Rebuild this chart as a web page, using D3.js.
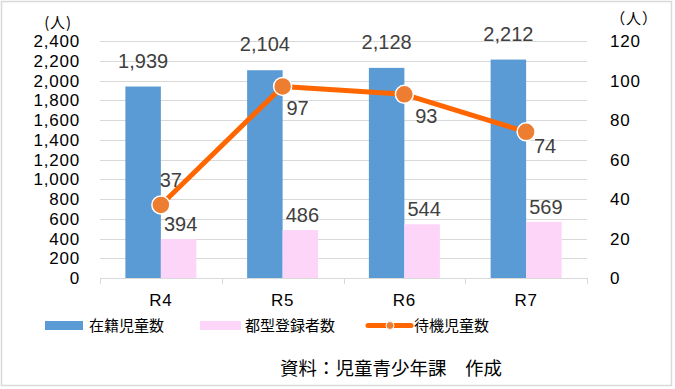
<!DOCTYPE html>
<meta charset="utf-8">
<style>
body { margin: 0; background: #fff; }
svg { display: block; font-family: "Noto Sans CJK JP", "Noto Sans", sans-serif; }
.grid line { stroke: #d9d9d9; stroke-width: 1; shape-rendering: crispEdges; }
.num { font-family: "Liberation Sans", Arial, sans-serif; }
.axis-text { fill: #000; font-size: 17px; letter-spacing: 0.8px; }
.val { fill: #404040; font-size: 20px; }
.legend text { fill: #000; font-size: 15px; }
</style>
<body>
<svg class="js-chart"></svg>
<script src="https://cdn.jsdelivr.net/npm/d3@7"></script>
<script>
"use strict";

var categories = ["R4", "R5", "R6", "R7"];
var enrolled = [1939, 2104, 2128, 2212];      // 在籍児童数
var registered = [394, 486, 544, 569];        // 都型登録者数
var waiting = [37, 97, 93, 74];               // 待機児童数
var leftTicks = [0, 200, 400, 600, 800, 1000, 1200, 1400, 1600, 1800, 2000, 2200, 2400];
var rightTicks = [0, 20, 40, 60, 80, 100, 120];
var legendNames = ["在籍児童数", "都型登録者数", "待機児童数"];

// label offsets for the line values (dx, dy from the marker)
var waitLabelOffset = [[10, -18], [15, 29], [22, 29], [19, 21]];

var W = 675, H = 389;
var plot = { left: 100, right: 587, top: 41, bottom: 278 };

var svg = d3.select(".js-chart").attr("width", W).attr("height", H);

svg.append("rect")
    .attr("x", 1.5).attr("y", 1.5)
    .attr("width", W - 5).attr("height", H - 5)
    .attr("fill", "#fff").attr("stroke", "#d9d9d9").attr("stroke-width", 1.5);

var x = d3.scaleBand().domain(categories).range([plot.left, plot.right]);
var xs = d3.scaleBand().domain(["a", "b"]).range([0, x.bandwidth()]).paddingOuter(0.715);
var yL = d3.scaleLinear().domain([0, 2400]).range([plot.bottom, plot.top]);
var yR = d3.scaleLinear().domain([0, 120]).range([plot.bottom, plot.top]);

// gridlines
svg.append("g").attr("class", "grid")
    .selectAll("line").data(leftTicks.slice(1)).join("line")
    .attr("x1", plot.left).attr("x2", plot.right)
    .attr("y1", d => Math.round(yL(d)) + 0.5).attr("y2", d => Math.round(yL(d)) + 0.5);

// x axis line and ticks
var xa = svg.append("g").attr("class", "grid");
xa.append("line")
    .attr("x1", plot.left).attr("x2", plot.right)
    .attr("y1", plot.bottom + 0.5).attr("y2", plot.bottom + 0.5);
xa.selectAll(".tk").data(categories.concat([null])).join("line")
    .attr("class", "tk")
    .attr("x1", (d, i) => Math.round(plot.left + i * x.step()) + 0.5)
    .attr("x2", (d, i) => Math.round(plot.left + i * x.step()) + 0.5)
    .attr("y1", plot.bottom).attr("y2", plot.bottom + 6);

// left axis labels
svg.append("g").selectAll("text").data(leftTicks).join("text")
    .attr("class", "axis-text num")
    .attr("x", 80).attr("y", d => yL(d))
    .attr("dy", "0.36em").attr("text-anchor", "end")
    .text(d => d3.format(",")(d));
svg.append("text").attr("class", "axis-text")
    .attr("x", 58).attr("y", 28).attr("text-anchor", "middle")
    .style("font-size", "15px")
    .text("(人)");

// right axis labels
svg.append("g").selectAll("text").data(rightTicks).join("text")
    .attr("class", "axis-text num")
    .attr("x", 610).attr("y", d => yR(d))
    .attr("dy", "0.36em")
    .text(d => d);
svg.append("text").attr("class", "axis-text")
    .attr("x", 634).attr("y", 24).attr("text-anchor", "middle")
    .style("font-size", "15px")
    .text("（人）");

// x labels
svg.append("g").selectAll("text").data(categories).join("text")
    .attr("class", "axis-text num")
    .attr("x", d => x(d) + x.bandwidth() / 2).attr("y", 306)
    .attr("text-anchor", "middle")
    .text(d => d);

// bars
svg.append("g").selectAll("rect").data(enrolled).join("rect")
    .attr("x", (d, i) => x(categories[i]) + xs("a"))
    .attr("width", xs.bandwidth())
    .attr("y", d => yL(d)).attr("height", d => yL(0) - yL(d))
    .attr("fill", "#5b9bd5");
svg.append("g").selectAll("rect").data(registered).join("rect")
    .attr("x", (d, i) => x(categories[i]) + xs("b"))
    .attr("width", xs.bandwidth())
    .attr("y", d => yL(d)).attr("height", d => yL(0) - yL(d))
    .attr("fill", "#fdd5f8");

// bar labels
svg.append("g").selectAll("text").data(enrolled).join("text")
    .attr("class", "val num")
    .attr("x", (d, i) => x(categories[i]) + xs("a") + xs.bandwidth() / 2)
    .attr("y", d => yL(d) - 19)
    .attr("text-anchor", "middle")
    .text(d => d3.format(",")(d));
svg.append("g").selectAll("text").data(registered).join("text")
    .attr("class", "val num")
    .attr("x", (d, i) => x(categories[i]) + xs("b") + xs.bandwidth() / 2 + 2)
    .attr("y", d => yL(d) - 8)
    .attr("text-anchor", "middle")
    .text(d => d3.format(",")(d));

// waiting line
var cx = (d, i) => x(categories[i]) + x.bandwidth() / 2;
var line = d3.line().x(cx).y(d => yR(d));
svg.append("path").datum(waiting)
    .attr("d", line)
    .attr("fill", "none").attr("stroke", "#ff6600").attr("stroke-width", 5)
    .attr("stroke-linejoin", "round");
svg.append("g").selectAll("circle").data(waiting).join("circle")
    .attr("cx", cx).attr("cy", d => yR(d)).attr("r", 9)
    .attr("fill", "#ed7d31").attr("stroke", "#fff").attr("stroke-width", 1.5);
svg.append("g").selectAll("text").data(waiting).join("text")
    .attr("class", "val num")
    .attr("x", (d, i) => cx(d, i) + waitLabelOffset[i][0])
    .attr("y", (d, i) => yR(d) + waitLabelOffset[i][1])
    .attr("text-anchor", "middle")
    .text(d => d);

// legend
var lg = svg.append("g").attr("class", "legend");
lg.append("rect").attr("x", 45).attr("y", 321).attr("width", 38).attr("height", 9).attr("fill", "#5b9bd5");
lg.append("text").attr("x", 89).attr("y", 331).text(legendNames[0]);
lg.append("rect").attr("x", 200).attr("y", 321).attr("width", 41).attr("height", 9).attr("fill", "#fdd5f8");
lg.append("text").attr("x", 245).attr("y", 331).text(legendNames[1]);
lg.append("line").attr("x1", 368).attr("x2", 411).attr("y1", 325.5).attr("y2", 325.5)
    .attr("stroke", "#ff6600").attr("stroke-width", 5).attr("stroke-linecap", "round");
lg.append("circle").attr("cx", 390).attr("cy", 325.5).attr("r", 4)
    .attr("fill", "#ed7d31").attr("stroke", "#fff").attr("stroke-width", 1);
lg.append("text").attr("x", 414).attr("y", 331).text(legendNames[2]);

// source note
svg.append("text")
    .attr("x", 280).attr("y", 375)
    .style("font-size", "18.5px").attr("fill", "#000")
    .text("資料：児童青少年課　作成");
</script>
</body>
